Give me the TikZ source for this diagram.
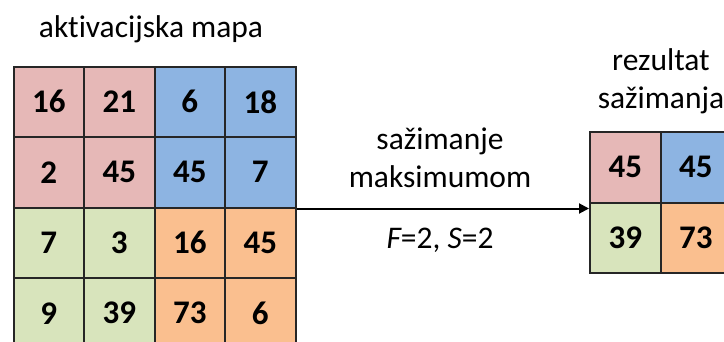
\documentclass[tikz,border=0pt]{standalone}
\usepackage{fontspec}
\setmainfont{Carlito}[Ligatures=NoCommon]
\usetikzlibrary{arrows.meta}

\definecolor{cellred}{HTML}{E6B8B7}
\definecolor{cellblue}{HTML}{8DB4E2}
\definecolor{cellgreen}{HTML}{D8E4BC}
\definecolor{cellorange}{HTML}{FABF8F}

\begin{document}
\begin{tikzpicture}[x=1pt, y=-1pt,
    cell/.style={draw=black!85, line width=2pt, minimum size=70.5pt, inner sep=0pt, font=\fontsize{33}{36}\selectfont\bfseries},
    label/.style={align=center, font=\fontsize{31.5}{38}\selectfont}]
			\useasboundingbox (0,0) rectangle (724,341);

			% Activation map
			\node[label] (title) at (151,29) {aktivacijska mapa};
			\node[cell, fill=cellred] (a11) at (48.75,101.75) {16};
			\node[cell, fill=cellred] (a12) at (119.25,101.75) {21};
			\node[cell, fill=cellblue] (a13) at (189.75,101.75) {6};
			\node[cell, fill=cellblue] (a14) at (260.25,101.75) {18};
			\node[cell, fill=cellred] (a21) at (48.75,172.25) {2};
			\node[cell, fill=cellred] (a22) at (119.25,172.25) {45};
			\node[cell, fill=cellblue] (a23) at (189.75,172.25) {45};
			\node[cell, fill=cellblue] (a24) at (260.25,172.25) {7};
			\node[cell, fill=cellgreen] (a31) at (48.75,242.75) {7};
			\node[cell, fill=cellgreen] (a32) at (119.25,242.75) {3};
			\node[cell, fill=cellorange] (a33) at (189.75,242.75) {16};
			\node[cell, fill=cellorange] (a34) at (260.25,242.75) {45};
			\node[cell, fill=cellgreen] (a41) at (48.75,313.25) {9};
			\node[cell, fill=cellgreen] (a42) at (119.25,313.25) {39};
			\node[cell, fill=cellorange] (a43) at (189.75,313.25) {73};
			\node[cell, fill=cellorange] (a44) at (260.25,313.25) {6};

			% Pooling result
			\node[label] (result) at (661,81) {rezultat\\sažimanja};
			\node[cell, fill=cellred] (r11) at (625.25,167.25) {45};
			\node[cell, fill=cellblue] (r12) at (695.75,167.25) {45};
			\node[cell, fill=cellgreen] (r21) at (625.25,237.75) {39};
			\node[cell, fill=cellorange] (r22) at (695.75,237.75) {73};

			% Link
			\draw[-{Triangle[length=10pt, width=10pt]}, line width=2pt] (a24.south east) -- (a24.south east -| r21.west);
			\node[label] (pool) at (440,158) {sažimanje\\maksimumom};
			\node[label] (param) at (440,240) {\itshape F\upshape =2, \itshape S\upshape =2};
		\end{tikzpicture}
\end{document}
